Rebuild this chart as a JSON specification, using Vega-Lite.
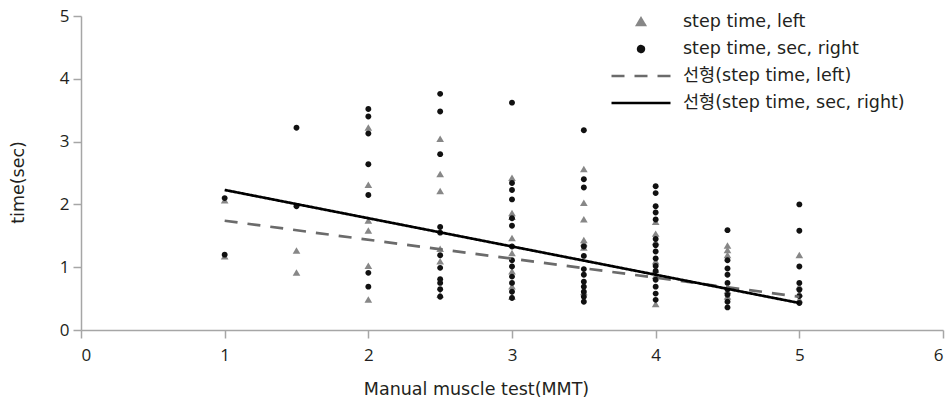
{
  "$schema": "https://vega.github.io/schema/vega-lite/v6.json",
  "width": 862,
  "height": 314,
  "autosize": "none",
  "padding": {"left": 81, "top": 16, "right": 6, "bottom": 70},
  "background": "white",
  "config": {
    "view": {"stroke": null},
    "font": "DejaVu Sans, Noto Sans CJK KR",
    "axis": {
      "grid": false,
      "domainColor": "#a6a6a6",
      "domainWidth": 1.5,
      "tickColor": "#a6a6a6",
      "tickWidth": 1.5,
      "tickSize": 8,
      "labelFont": "Open Sans",
      "labelFontSize": 17,
      "labelColor": "#231f20",
      "titleFont": "DejaVu Sans",
      "titleFontSize": 17.5,
      "titleFontWeight": "normal",
      "titleColor": "#231f20"
    },
    "legend": {
      "labelFont": "DejaVu Sans, Noto Sans CJK KR",
      "labelFontSize": 17.5,
      "labelColor": "#231f20",
      "labelLimit": 400,
      "padding": 0,
      "clipHeight": 20,
      "rowPadding": 7,
      "labelOffset": 11,
      "symbolSize": 3481,
      "symbolStrokeWidth": 2.5
    }
  },
  "datasets": {
    "pts": [
      {"mmt": 1, "time": 2.06, "series": "step time, left"},
      {"mmt": 1, "time": 1.17, "series": "step time, left"},
      {"mmt": 1.5, "time": 1.26, "series": "step time, left"},
      {"mmt": 1.5, "time": 0.91, "series": "step time, left"},
      {"mmt": 2, "time": 3.22, "series": "step time, left"},
      {"mmt": 2, "time": 2.31, "series": "step time, left"},
      {"mmt": 2, "time": 1.74, "series": "step time, left"},
      {"mmt": 2, "time": 1.58, "series": "step time, left"},
      {"mmt": 2, "time": 1.02, "series": "step time, left"},
      {"mmt": 2, "time": 0.48, "series": "step time, left"},
      {"mmt": 2.5, "time": 3.04, "series": "step time, left"},
      {"mmt": 2.5, "time": 2.48, "series": "step time, left"},
      {"mmt": 2.5, "time": 2.21, "series": "step time, left"},
      {"mmt": 2.5, "time": 1.29, "series": "step time, left"},
      {"mmt": 2.5, "time": 1.09, "series": "step time, left"},
      {"mmt": 2.5, "time": 0.56, "series": "step time, left"},
      {"mmt": 3, "time": 2.42, "series": "step time, left"},
      {"mmt": 3, "time": 1.86, "series": "step time, left"},
      {"mmt": 3, "time": 1.8, "series": "step time, left"},
      {"mmt": 3, "time": 1.46, "series": "step time, left"},
      {"mmt": 3, "time": 1.22, "series": "step time, left"},
      {"mmt": 3, "time": 0.93, "series": "step time, left"},
      {"mmt": 3, "time": 0.69, "series": "step time, left"},
      {"mmt": 3, "time": 0.53, "series": "step time, left"},
      {"mmt": 3.5, "time": 2.56, "series": "step time, left"},
      {"mmt": 3.5, "time": 2.02, "series": "step time, left"},
      {"mmt": 3.5, "time": 1.76, "series": "step time, left"},
      {"mmt": 3.5, "time": 1.43, "series": "step time, left"},
      {"mmt": 3.5, "time": 1.38, "series": "step time, left"},
      {"mmt": 3.5, "time": 1.31, "series": "step time, left"},
      {"mmt": 3.5, "time": 0.6, "series": "step time, left"},
      {"mmt": 4, "time": 1.72, "series": "step time, left"},
      {"mmt": 4, "time": 1.53, "series": "step time, left"},
      {"mmt": 4, "time": 1.4, "series": "step time, left"},
      {"mmt": 4, "time": 1.09, "series": "step time, left"},
      {"mmt": 4, "time": 0.95, "series": "step time, left"},
      {"mmt": 4, "time": 0.86, "series": "step time, left"},
      {"mmt": 4, "time": 0.41, "series": "step time, left"},
      {"mmt": 4.5, "time": 1.34, "series": "step time, left"},
      {"mmt": 4.5, "time": 1.27, "series": "step time, left"},
      {"mmt": 4.5, "time": 1.19, "series": "step time, left"},
      {"mmt": 4.5, "time": 0.62, "series": "step time, left"},
      {"mmt": 4.5, "time": 0.53, "series": "step time, left"},
      {"mmt": 5, "time": 1.19, "series": "step time, left"},
      {"mmt": 5, "time": 0.69, "series": "step time, left"},
      {"mmt": 5, "time": 0.58, "series": "step time, left"},
      {"mmt": 5, "time": 0.48, "series": "step time, left"},
      {"mmt": 1, "time": 2.1, "series": "step time, sec, right"},
      {"mmt": 1, "time": 1.2, "series": "step time, sec, right"},
      {"mmt": 1.5, "time": 3.22, "series": "step time, sec, right"},
      {"mmt": 1.5, "time": 1.97, "series": "step time, sec, right"},
      {"mmt": 2, "time": 3.52, "series": "step time, sec, right"},
      {"mmt": 2, "time": 3.4, "series": "step time, sec, right"},
      {"mmt": 2, "time": 3.13, "series": "step time, sec, right"},
      {"mmt": 2, "time": 2.64, "series": "step time, sec, right"},
      {"mmt": 2, "time": 2.15, "series": "step time, sec, right"},
      {"mmt": 2, "time": 0.91, "series": "step time, sec, right"},
      {"mmt": 2, "time": 0.69, "series": "step time, sec, right"},
      {"mmt": 2.5, "time": 3.76, "series": "step time, sec, right"},
      {"mmt": 2.5, "time": 3.48, "series": "step time, sec, right"},
      {"mmt": 2.5, "time": 2.8, "series": "step time, sec, right"},
      {"mmt": 2.5, "time": 1.64, "series": "step time, sec, right"},
      {"mmt": 2.5, "time": 1.55, "series": "step time, sec, right"},
      {"mmt": 2.5, "time": 1.19, "series": "step time, sec, right"},
      {"mmt": 2.5, "time": 0.99, "series": "step time, sec, right"},
      {"mmt": 2.5, "time": 0.81, "series": "step time, sec, right"},
      {"mmt": 2.5, "time": 0.75, "series": "step time, sec, right"},
      {"mmt": 2.5, "time": 0.65, "series": "step time, sec, right"},
      {"mmt": 2.5, "time": 0.53, "series": "step time, sec, right"},
      {"mmt": 3, "time": 3.62, "series": "step time, sec, right"},
      {"mmt": 3, "time": 2.34, "series": "step time, sec, right"},
      {"mmt": 3, "time": 2.23, "series": "step time, sec, right"},
      {"mmt": 3, "time": 2.08, "series": "step time, sec, right"},
      {"mmt": 3, "time": 1.78, "series": "step time, sec, right"},
      {"mmt": 3, "time": 1.66, "series": "step time, sec, right"},
      {"mmt": 3, "time": 1.33, "series": "step time, sec, right"},
      {"mmt": 3, "time": 1.11, "series": "step time, sec, right"},
      {"mmt": 3, "time": 1.01, "series": "step time, sec, right"},
      {"mmt": 3, "time": 0.85, "series": "step time, sec, right"},
      {"mmt": 3, "time": 0.75, "series": "step time, sec, right"},
      {"mmt": 3, "time": 0.61, "series": "step time, sec, right"},
      {"mmt": 3, "time": 0.51, "series": "step time, sec, right"},
      {"mmt": 3.5, "time": 3.18, "series": "step time, sec, right"},
      {"mmt": 3.5, "time": 2.4, "series": "step time, sec, right"},
      {"mmt": 3.5, "time": 2.27, "series": "step time, sec, right"},
      {"mmt": 3.5, "time": 1.33, "series": "step time, sec, right"},
      {"mmt": 3.5, "time": 1.18, "series": "step time, sec, right"},
      {"mmt": 3.5, "time": 0.97, "series": "step time, sec, right"},
      {"mmt": 3.5, "time": 0.88, "series": "step time, sec, right"},
      {"mmt": 3.5, "time": 0.77, "series": "step time, sec, right"},
      {"mmt": 3.5, "time": 0.69, "series": "step time, sec, right"},
      {"mmt": 3.5, "time": 0.61, "series": "step time, sec, right"},
      {"mmt": 3.5, "time": 0.53, "series": "step time, sec, right"},
      {"mmt": 3.5, "time": 0.45, "series": "step time, sec, right"},
      {"mmt": 4, "time": 2.29, "series": "step time, sec, right"},
      {"mmt": 4, "time": 2.18, "series": "step time, sec, right"},
      {"mmt": 4, "time": 1.97, "series": "step time, sec, right"},
      {"mmt": 4, "time": 1.87, "series": "step time, sec, right"},
      {"mmt": 4, "time": 1.76, "series": "step time, sec, right"},
      {"mmt": 4, "time": 1.45, "series": "step time, sec, right"},
      {"mmt": 4, "time": 1.35, "series": "step time, sec, right"},
      {"mmt": 4, "time": 1.25, "series": "step time, sec, right"},
      {"mmt": 4, "time": 1.14, "series": "step time, sec, right"},
      {"mmt": 4, "time": 1.02, "series": "step time, sec, right"},
      {"mmt": 4, "time": 0.94, "series": "step time, sec, right"},
      {"mmt": 4, "time": 0.8, "series": "step time, sec, right"},
      {"mmt": 4, "time": 0.69, "series": "step time, sec, right"},
      {"mmt": 4, "time": 0.58, "series": "step time, sec, right"},
      {"mmt": 4, "time": 0.48, "series": "step time, sec, right"},
      {"mmt": 4.5, "time": 1.59, "series": "step time, sec, right"},
      {"mmt": 4.5, "time": 1.11, "series": "step time, sec, right"},
      {"mmt": 4.5, "time": 0.98, "series": "step time, sec, right"},
      {"mmt": 4.5, "time": 0.88, "series": "step time, sec, right"},
      {"mmt": 4.5, "time": 0.75, "series": "step time, sec, right"},
      {"mmt": 4.5, "time": 0.65, "series": "step time, sec, right"},
      {"mmt": 4.5, "time": 0.56, "series": "step time, sec, right"},
      {"mmt": 4.5, "time": 0.45, "series": "step time, sec, right"},
      {"mmt": 4.5, "time": 0.36, "series": "step time, sec, right"},
      {"mmt": 5, "time": 2.0, "series": "step time, sec, right"},
      {"mmt": 5, "time": 1.58, "series": "step time, sec, right"},
      {"mmt": 5, "time": 1.01, "series": "step time, sec, right"},
      {"mmt": 5, "time": 0.75, "series": "step time, sec, right"},
      {"mmt": 5, "time": 0.64, "series": "step time, sec, right"},
      {"mmt": 5, "time": 0.54, "series": "step time, sec, right"},
      {"mmt": 5, "time": 0.43, "series": "step time, sec, right"}
    ],
    "fits": [
      {"mmt": 1, "time": 1.74, "series": "선형(step time, left)"},
      {"mmt": 5, "time": 0.53, "series": "선형(step time, left)"},
      {"mmt": 1, "time": 2.23, "series": "선형(step time, sec, right)"},
      {"mmt": 5, "time": 0.43, "series": "선형(step time, sec, right)"}
    ]
  },
  "layer": [
    {
      "data": {"name": "pts"},
      "mark": {"type": "point", "filled": true, "opacity": 1, "size": 3481},
      "encoding": {
        "x": {
          "field": "mmt", "type": "quantitative",
          "scale": {"domain": [0, 6], "nice": false},
          "axis": {"values": [0, 1, 2, 3, 4, 5, 6], "format": "d", "labelPadding": 9, "title": "Manual muscle test(MMT)", "titleX": 395, "titleY": 59, "titleBaseline": "middle", "titleAnchor": "middle"}
        },
        "y": {
          "field": "time", "type": "quantitative",
          "scale": {"domain": [0, 5], "nice": false},
          "axis": {"values": [0, 1, 2, 3, 4, 5], "format": "d", "labelPadding": 4, "title": "time(sec)", "titleX": -63, "titleY": 166, "titleBaseline": "middle"}
        },
        "color": {
          "field": "series", "type": "nominal",
          "scale": {
            "domain": ["step time, left", "step time, sec, right", "선형(step time, left)", "선형(step time, sec, right)"],
            "range": ["#878787", "#111111", "#6b6b6b", "#000000"]
          },
          "legend": {
            "title": null,
            "orient": "none",
            "legendX": 529,
            "legendY": -4
          }
        },
        "shape": {
          "field": "series", "type": "nominal",
          "scale": {
            "domain": ["step time, left", "step time, sec, right", "선형(step time, left)", "선형(step time, sec, right)"],
            "range": [
              "M0,-0.12L0.13,0.1L-0.13,0.1Z",
              "M-0.1,0A0.1,0.1 0 1,0 0.1,0A0.1,0.1 0 1,0 -0.1,0Z",
              "M-1,0H1",
              "M-1,0H1"
            ]
          }
        }
      }
    },
    {
      "data": {"name": "fits"},
      "mark": {"type": "line", "strokeWidth": 2.7},
      "encoding": {
        "x": {"field": "mmt", "type": "quantitative"},
        "y": {"field": "time", "type": "quantitative"},
        "color": {"field": "series", "type": "nominal"},
        "strokeDash": {
          "field": "series", "type": "nominal",
          "scale": {
            "domain": ["step time, left", "step time, sec, right", "선형(step time, left)", "선형(step time, sec, right)"],
            "range": [[1, 0], [1, 0], [13, 10], [1, 0]]
          }
        }
      }
    }
  ]
}
